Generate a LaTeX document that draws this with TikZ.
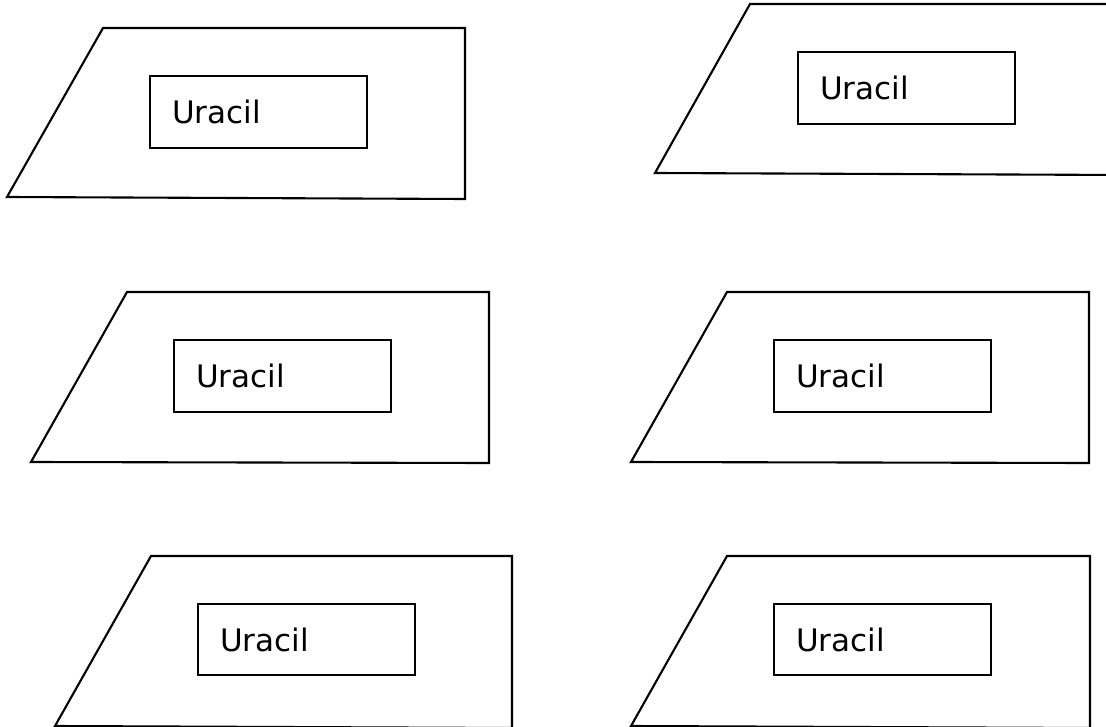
\documentclass[tikz,border=0pt]{standalone}
\usepackage{fontspec}
\setmainfont{DejaVu Sans}
\begin{document}
\begin{tikzpicture}[x=1pt, y=-1pt,
  slab/.style={draw=black, line width=2.1pt},
  basebox/.style={draw=black, line width=1.9pt, minimum width=217pt, minimum height=72pt,
    inner xsep=22pt, inner ysep=0pt, text width=173pt, align=left,
    font=\fontsize{31}{36}\selectfont}]
  \useasboundingbox (0,0) rectangle (1106,727);
  \clip (0,0) rectangle (1106,727);
  % outer slanted panels
  \draw[slab] (103,28) -- (465,28) -- (465,199) -- (7,197) -- cycle;
  \draw[slab] (750,4) -- (1125,4) -- (1125,175) -- (655,173) -- cycle;
  \draw[slab] (127,292) -- (489,292) -- (489,463) -- (31,462) -- cycle;
  \draw[slab] (727,292) -- (1089,292) -- (1089,463) -- (631,462) -- cycle;
  \draw[slab] (151,556) -- (512,556) -- (512,728) -- (55,726) -- cycle;
  \draw[slab] (727,556) -- (1090,556) -- (1090,728) -- (631,726) -- cycle;
  % labelled boxes
  \node[basebox] (u1) at (258.5,112) {Uracil};
  \node[basebox] (u2) at (906.5,88) {Uracil};
  \node[basebox] (u3) at (282.5,376) {Uracil};
  \node[basebox] (u4) at (882.5,376) {Uracil};
  \node[basebox, minimum height=71pt] (u5) at (306.5,639.5) {Uracil};
  \node[basebox, minimum height=71pt] (u6) at (882.5,639.5) {Uracil};
\end{tikzpicture}
\end{document}
